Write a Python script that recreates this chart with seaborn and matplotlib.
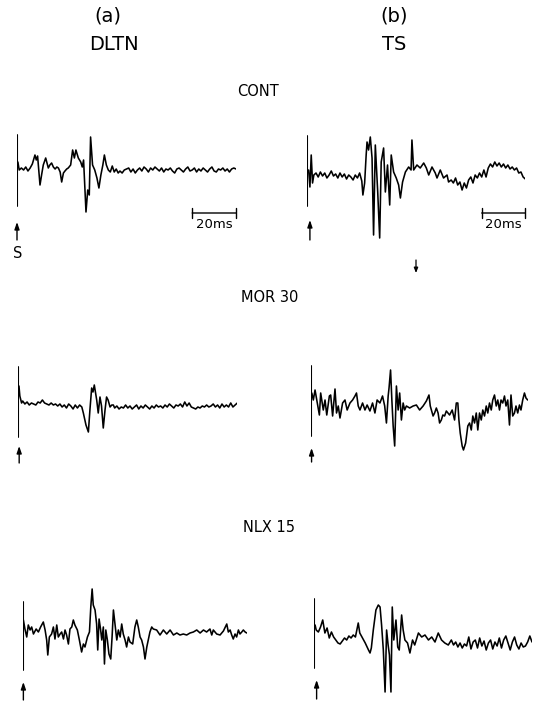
import matplotlib
matplotlib.use("Agg")
import matplotlib.pyplot as plt
import matplotlib.patches as mpatches
import seaborn as sns

# ---------------- data (time in ms after stimulus, amplitude in arbitrary units) ----------------
cont_dltn_t = [0.4, 1, 2, 3, 4, 5, 6, 7, 8.2, 8.8,
               9.4, 10.5, 11.3, 12, 13.1, 14.3, 15, 15.8, 16.6, 17.4,
               18.2, 18.9, 19.7, 20.4, 21.2, 21.9, 22.7, 23.4, 24.5, 25.4,
               26.2, 26.9, 28, 29.1, 29.8, 30.4, 31.5, 32.3, 33, 33.6,
               34.5, 35.5, 36.5, 37.4, 38.3, 39.2, 39.9, 40.8, 41.7, 42.6,
               43.5, 44.4, 45.3, 46.2, 47, 48, 49, 50,
               51, 52, 53, 54, 55, 56, 57, 58, 59, 60,
               61, 62, 63, 64, 65, 66, 67, 68, 69, 70,
               71, 72, 73, 74, 75, 76, 77, 78, 79, 80,
               81, 82, 83, 84, 85, 86, 87, 88, 89, 90,
               91, 92, 93, 94, 95, 96, 97, 98, 99, 100]
cont_dltn_v = [8, 0, 2, 0, 3, -1, 2, 6, 15, 10,
               14, -15, -4, 5, 12, 2, 5, 7, 3, 1,
               3, 2, -2, -12, -3, -1, 1, 2, 5, 20,
               12, 20, 12, 8, 3, 10, -42, -20, -25, 33,
               5, 0, -8, -18, -5, 5, 15, 5, 0, -2,
               4, -2, 1, -3, -1, -3, 0, 1,
               2, -2, 1, -3, 0, 2, -1, 3, 1, -2,
               2, 0, 3, 1, -1, 2, -2, 1, 0, 2,
               -1, -3, 1, 2, 0, -2, 1, 3, -1, 0,
               2, -2, 1, -1, 2, 0, -2, 1, 3, -1,
               -2, 1, 0, 2, -1, 1, -2, 1, 2, 1]

cont_ts_t = [0.6, 1.2, 1.8, 2.4, 3, 4, 5, 6, 7, 8,
             9, 10, 11, 12, 13, 14, 15, 16, 17, 18,
             19, 20, 21, 22, 23, 24, 25, 25.5, 26.3, 27,
             27.4, 28.1, 28.9, 29.7, 30.4, 31.2, 32.3, 33.2, 33.9, 35,
             35.8, 36.8, 37.8, 38.5, 39.6, 40.8, 41.9, 42.7, 43.7, 45,
             46.5, 47.6, 48, 48.8, 50.3, 51.8, 53.4, 54.6, 55.7, 57.2,
             58.7, 59.5, 61, 62.5, 64.1, 64.8,
             66, 67, 68, 69, 70, 71, 72, 73, 74, 75,
             76, 77, 78, 79, 80, 81, 82, 83, 84, 85,
             86, 87, 88, 89, 90, 91, 92, 93, 94, 95,
             96, 97, 98, 99, 100]
cont_ts_v = [5, -12, 20, -8, 0, 2, -2, 3, -1, 2,
             -3, 0, 4, -1, 1, -3, 2, -2, 1, -4,
             0, -2, -5, 0, -3, 2, -6, -20, -8, 20,
             33, 25, 38, 17, -60, 30, -17, -63, 13, 27,
             -17, 10, -30, 20, 3, -3, -10, -23, -7, 3,
             8, 5, 35, 5, 10, 7, 12, 7, 0, 8,
             2, -3, 5, -3, 0, -7,
             -5, -8, -3, -10, -7, -15, -8, -13, -5, -2,
             -8, 0, -3, 2, -2, 5, -2, 7, 11, 8,
             13, 9, 12, 8, 11, 7, 10, 6, 8, 5,
             7, 2, 3, -2, -4]

mor_dltn_t = [0.3, 0.7, 1.5, 2,
              3, 4, 5, 6, 7, 8, 9, 10, 11, 12,
              13, 14, 15, 16, 17, 18, 19, 20, 21, 22,
              23, 24, 25, 26, 27, 28, 29,
              29.7, 30.9, 32, 32.7, 33.5, 34.1, 34.7, 35.8, 36.5, 37.3,
              38, 38.8, 39.6, 40.3, 41, 41.9, 42.7, 43.4,
              44, 45, 46, 47, 48, 49, 50, 51, 52, 53,
              54, 55, 56, 57, 58, 59, 60, 61, 62, 63,
              64, 65, 66, 67, 68, 69, 70, 71, 72, 73,
              74, 75, 76, 77, 78, 79, 80, 81, 82, 83,
              84, 85, 86, 87, 88, 89, 90, 91, 92, 93,
              94, 95, 96, 97, 98, 99, 100]
mor_dltn_v = [20, 10, 3, 5,
              2, 4, 1, 3, 2, 1, 4, 3, 6, 3,
              2, 1, 3, 1, 2, 0, 2, -1, 1, -2,
              2, 0, -3, 1, -2, 1, -1,
              -7, -19, -26, -4, 18, 14, 21, 6, -7, 9,
              0, -22, -4, 9, 6, -1, 1, 1,
              -2, 0, -3, -1, -2, 1, -2, 0, -3, -1,
              1, -3, 0, -2, 1, -1, -3, 0, -2, 1,
              -1, 0, -2, 1, -1, 2, 0, -2, 1, 0,
              2, -1, 4, 0, 3, -1, -2, -3, -1, -2,
              0, -1, 1, -1, 0, 2, -1, 1, -2, 2,
              -1, 1, -1, 3, -1, 1, 3]

mor_ts_t = [0.5, 1.2, 2.0, 2.8, 4.0, 4.6, 5.8, 6.6, 7.4, 8.6,
            9.2, 10.1, 11.2, 11.9, 12.7, 13.5, 14.7, 15.8, 16.8, 18.1,
            19.3, 20.4, 21.1, 21.9, 22.7, 23.9, 25.0, 26.0, 27.3, 28.5,
            29.6, 30.6, 31.9, 33.1, 34.1, 34.9, 35.7, 36.1, 36.8, 37.4,
            38.0, 38.7, 39.5, 40.3, 41.0, 41.8, 42.6, 43.3, 44.1, 45.6,
            47.2, 48.7, 50.2, 51.8, 53.3, 54.5, 55.1, 56.4, 57.1, 57.9,
            58.7, 59.4, 60.2, 60.9, 61.7, 62.5, 64.0, 65.2, 66.3, 67.1,
            67.8, 68.3, 68.9, 69.8, 70.4, 71.4, 72.4, 73.2, 74.0, 74.7,
            75.5, 76.3, 77.0, 77.8, 78.6, 79.3, 80.1, 80.9, 81.6, 82.4,
            83.2, 83.9, 84.7, 85.5, 86.2, 87.0, 87.7, 88.5, 89.3, 90.0,
            90.8, 91.6, 92.3, 93.1, 93.9, 94.6, 95.4, 96.2, 96.9, 97.7,
            98.5, 99.2, 100.0]
mor_ts_v = [10, 3, 13, 3, -12, 10, -7, 3, -12, 7,
            8, -13, 14, -10, -3, -15, 0, 3, -7, 0,
            3, 7, 10, -3, -7, 0, -7, -2, -8, 0,
            -10, 3, 0, 7, -3, -20, 7, 15, 33, 3,
            -23, -43, 17, -7, 10, -17, 0, -7, -3, -5,
            -3, -2, -7, -3, 2, 8, -3, -13, -10, -5,
            -10, -20, -17, -12, -13, -8, -12, -7, -17, 0,
            0, -17, -30, -43, -47, -40, -23, -20, -27, -13,
            -20, -10, -27, -10, -17, -7, -13, -3, -10, 0,
            -7, 3, 8, -3, 3, -7, 3, 0, 7, -3,
            3, -22, 8, -13, -10, -3, -10, -2, -7, 3,
            10, 5, 3]

nlx_dltn_t = [0.3, 1.0, 1.8, 2.5, 3.3, 4.0, 4.8, 6.0, 7.0, 8.0,
              9.2, 10.0, 10.7, 11.2, 11.9, 12.9, 13.7, 14.4, 15.2, 15.9,
              16.7, 17.4, 18.2, 18.9, 19.6, 20.4, 21.1, 21.9, 22.6, 23.3,
              24.4, 25.3, 26.3, 27.1, 27.8, 28.9, 29.8, 30.4, 31.0, 31.5,
              32.3, 33.0, 33.5, 34.1, 34.8, 35.3, 36.0, 36.5, 37.1, 37.8,
              38.5, 39.3, 39.9, 40.5, 41.2, 42.0, 42.7, 43.5, 44.2, 44.9,
              45.7, 46.4, 47.2, 47.9, 49.1, 50.1, 50.9, 51.6, 52.4, 53.1,
              53.9, 54.6, 55.4, 56.8, 57.6, 58.3, 59.8, 61.3, 62.8, 64.3,
              65.8, 67.3, 68.8, 70.2, 71.7, 73.2, 74.7, 76.2, 77.7, 79.2,
              80.7, 82.1, 83.6, 84.4, 85.1, 86.6, 88.1, 89.6, 91.1, 91.8,
              92.6, 93.3, 94.0, 94.8, 95.5, 96.3, 97.0, 97.8, 98.5, 99.3,
              100.0]
nlx_dltn_v = [12, 3, -5, 7, 2, 5, -2, 3, 0, 5,
              10, 2, -8, -23, -5, -2, 5, -7, 7, -5,
              -2, 0, -7, 2, -3, -12, 3, 5, 12, 7,
              2, -8, -20, -12, -15, -5, 0, 25, 43, 27,
              22, 8, -18, 13, 2, -8, 5, -32, 2, -8,
              -22, -27, -5, 22, 8, -8, 2, -5, 8, -2,
              -8, -15, -5, -10, -12, 5, 12, 5, -5, -8,
              -15, -27, -15, 0, 5, 3, 2, -3, 2, -2,
              2, -3, -1, -3, -2, -3, -1, 0, 2, -1,
              2, 0, 3, -3, 2, -2, -3, 1, 8, 0,
              2, -3, -7, -2, -5, 2, -2, 0, 2, 0,
              -1]

nlx_ts_t = [0.5, 1, 2, 3, 4, 5, 6, 7, 8, 9,
            10, 11, 12, 13, 14, 15, 16, 17, 18, 19,
            20.3, 21, 22, 23.5, 25, 25.7, 26.3, 27.2, 28.4, 29.5,
            30.3, 31, 31.8, 32.6, 33.3, 34, 34.6, 35.3, 35.9, 36.6,
            37.6, 38.4, 39.1, 40.2, 40.9, 41.7, 42.9, 44, 45.2, 46.2,
            47.9, 49.4, 50.9, 52.5, 54, 55.5, 57, 58.5, 60, 61.6,
            63, 64, 65, 66, 67, 68, 69, 70, 71, 72,
            73, 74, 75, 76, 77, 78, 79, 80, 81, 82,
            83, 84, 85, 86, 87, 88, 89, 90, 91, 92,
            93, 94, 95, 96, 97, 98, 99, 100]
nlx_ts_v = [15, 10, 8, 13, 20, 7, 12, 2, 8, 3,
            0, -3, -4, -1, 2, 0, 4, 2, 5, 3,
            17, 7, 3, -3, -10, -13, -8, 10, 30, 35,
            33, 15, -10, -52, 10, -5, -15, -52, 33, 0,
            20, -7, -10, 25, 10, 0, -3, -13, 0, -5,
            7, 3, 5, 0, 3, -2, 7, 0, -3, -5,
            0, -5, -2, -7, -3, -8, -4, -6, 3, -9,
            -2, 0, -8, 2, -6, -1, -10, -3, 0, -9,
            -2, -6, 2, -8, 0, 4, -3, -10, -2, 3,
            -5, -9, -3, -7, -6, -2, 4, -2]

# stimulus artefact extremes for each panel (same order as panels below)
stim_peak = [35, 39, 39, 37, 30, 41]
stim_trough = [-36, -31, -31, -33, -38, -28]

column_titles = ["(a)", "(b)"]
column_names = ["DLTN", "TS"]
condition_labels = ["CONT", "MOR 30", "NLX 15"]
scale_label = "20ms"
scale_ms = 20
stim_label = "S"

traces = [(cont_dltn_t, cont_dltn_v), (cont_ts_t, cont_ts_v),
          (mor_dltn_t, mor_dltn_v), (mor_ts_t, mor_ts_v),
          (nlx_dltn_t, nlx_dltn_v), (nlx_ts_t, nlx_ts_v)]
for tt, vv in traces:
    assert len(tt) == len(vv)

# ---------------- layout (pixels of a 539 x 701 canvas) ----------------
W, H = 539, 701
Y_LO, Y_HI = -75, 50
# x of stimulus, baseline y, width for 100 ms, arrow (t, top, bottom)
layout = [
    dict(x0=17.0, base=170, w=219, arrow=(0.0, -52, -70)),
    dict(x0=307.3, base=175, w=218, arrow=(1.2, -45, -65)),
    dict(x0=18.3, base=406, w=219, arrow=(0.4, -40, -57)),
    dict(x0=310.7, base=403, w=217, arrow=(0.4, -45, -59)),
    dict(x0=22.7, base=632, w=224, arrow=(0.3, -50, -68)),
    dict(x0=314.0, base=640, w=218, arrow=(1.2, -40, -59)),
]

sns.set_theme(style="white")
plt.rcParams["font.family"] = ["DejaVu Sans"]

fig = plt.figure(figsize=(W / 100, H / 100), dpi=100)
fig.patch.set_facecolor("white")

arrow_style = "-|>,head_width=0.12,head_length=0.35"

axes = []
for i, ((tt, vv), lay) in enumerate(zip(traces, layout)):
    left = lay["x0"] / W
    bottom = 1 - (lay["base"] - Y_LO) / H
    ax = fig.add_axes([left, bottom, lay["w"] / W, (Y_HI - Y_LO) / H])
    ax.set_xlim(0, 100)
    ax.set_ylim(Y_LO, Y_HI)
    ax.axis("off")
    sns.lineplot(x=tt, y=vv, ax=ax, color="black", linewidth=1.15,
                 estimator=None, sort=False, legend=False)
    sns.lineplot(x=[0, 0], y=[stim_peak[i], stim_trough[i]], ax=ax,
                 color="black", linewidth=1.5, estimator=None, sort=False,
                 legend=False)
    at, atop, abot = lay["arrow"]
    ax.annotate("", xy=(at, atop), xytext=(at, abot),
                arrowprops=dict(arrowstyle=arrow_style, color="black", lw=1.0,
                                shrinkA=0, shrinkB=0),
                annotation_clip=False)
    axes.append(ax)

# scale bars on the control traces
for ax, ybar, ylab in [(axes[0], -43, -54), (axes[1], -38, -50)]:
    ax.annotate("", xy=(100 - scale_ms, ybar), xytext=(100, ybar),
                arrowprops=dict(arrowstyle="|-|,widthA=0.3,widthB=0.3",
                                color="black", lw=1.0, shrinkA=0, shrinkB=0),
                annotation_clip=False)
    ax.text(100 - scale_ms / 2, ylab, scale_label, ha="center", va="center",
            fontsize=9.5, color="black")

axes[0].text(0.3, -83, stim_label, ha="center", va="center", fontsize=10.5,
             color="black")

def ftext(x, y, s, size):
    fig.text(x / W, 1 - y / H, s, ha="center", va="center", fontsize=size,
             color="black")

ftext(108, 16, column_titles[0], 14)
ftext(114, 45, column_names[0], 14)
ftext(394, 16, column_titles[1], 14)
ftext(394, 45, column_names[1], 14)
ftext(258, 92, condition_labels[0], 10.5)
ftext(270, 298, condition_labels[1], 10.5)
ftext(269, 528, condition_labels[2], 10.5)

# small stray down-arrow mark between the first two rows
fig.add_artist(mpatches.FancyArrowPatch(
    (416 / W, 1 - 260 / H), (416 / W, 1 - 273 / H),
    transform=fig.transFigure, arrowstyle="-|>,head_width=0.12,head_length=0.3",
    color="black", lw=0.9, mutation_scale=10, shrinkA=0, shrinkB=0))

fig.savefig("out.png", dpi=100, facecolor="white")
